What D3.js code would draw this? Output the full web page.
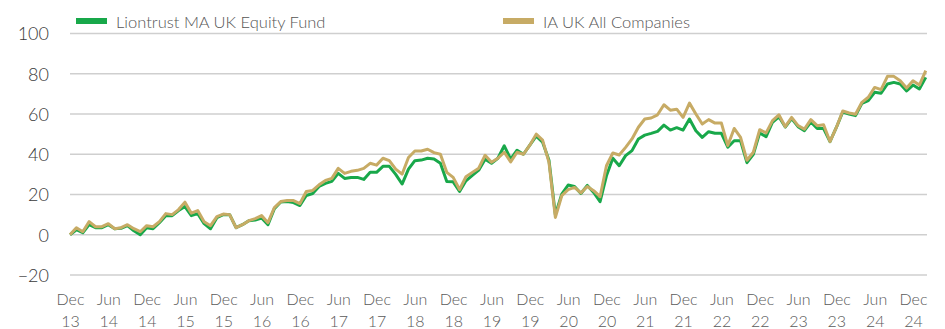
<!DOCTYPE html>
<html>
<head>
<meta charset="utf-8">
<script src="https://cdn.jsdelivr.net/npm/d3@7"></script>
<style>
  html, body { margin: 0; padding: 0; background: #fff; }
  svg { display: block; font-family: Lato, "Open Sans", sans-serif; }
</style>
</head>
<body>
<svg id="chart" width="945" height="329"></svg>
<script>
// Cumulative performance (%), monthly from Dec 2013 to Feb 2025
const fundValues = [
  0, 2.5, 1, 5, 3.5, 3.5, 5, 3, 3.2, 4.5, 2, 0,
  3.5, 3, 6, 9.5, 9.5, 12, 14, 9.5, 10.5, 5.5, 3, 8.5,
  10, 10, 3.5, 5, 7, 7.3, 8.3, 5, 13, 16.3, 16.5, 16,
  14.5, 19.5, 20.5, 24, 25.5, 26.5, 30.5, 28, 28.5, 28.5, 27.5, 31,
  31, 34, 34, 30, 25.2, 32.6, 36.8, 37.1, 38, 37.6, 35.5, 26.5,
  26.3, 21.5, 26.8, 29.5, 32.1, 37.5, 35.5, 38, 44.2, 37.6, 42, 40,
  44.5, 49, 46, 37, 10, 20.2, 24.7, 24, 20.5, 24.5, 21, 16.4,
  29.3, 38, 34.3, 39.3, 41.8, 47.6, 49.5, 50.4, 51.4, 54.5, 52, 53.2,
  52, 57.5, 51.7, 48.4, 51.2, 50.4, 50.4, 43.5, 46.7, 46.7, 35.8, 40,
  50.6, 48.7, 55.9, 58.6, 53.5, 57.7, 53.7, 51.7, 56, 52.8, 52.8, 46.3,
  53.3, 61, 60, 59.2, 65.3, 66.7, 70.8, 70.3, 74.9, 75.7, 74.9, 71.5,
  74.4, 72.4, 78.2
];
const sectorValues = [
  0, 3.5, 1.5, 6.5, 4, 4, 5.5, 3, 3.5, 5, 3, 1.5,
  4.5, 4, 6.5, 10.5, 10, 12.5, 16.2, 10.7, 12, 6.5, 4.5, 9,
  10.3, 10, 3.5, 5, 7, 8, 9.5, 6, 13.5, 16.5, 17, 17,
  15.5, 21.5, 22, 24.8, 27, 28, 33, 30.5, 31.5, 32, 33, 35.5,
  34.6, 38, 36.8, 32.6, 30.1, 38.4, 41.6, 41.6, 42.5, 40.8, 40, 31,
  28.5, 22.5, 28.8, 31, 33.1, 39.5, 36, 38, 41, 36.2, 41, 40,
  44.5, 50, 47, 36, 8.6, 19.4, 22.4, 23.5, 20.8, 24, 21.9, 18.9,
  34.3, 40.6, 39.6, 43.4, 47.6, 53.4, 57.5, 58, 59.6, 64.6, 61.9, 62.4,
  58.3, 65.4, 60, 55, 57.2, 55.5, 55.5, 44.3, 52.8, 48.4, 37, 41,
  52.2, 50.6, 56.7, 59.6, 53.7, 58.3, 54.2, 52.5, 57.2, 54.2, 54.7, 46.3,
  53.3, 61.5, 60.5, 59.9, 65.8, 68.3, 73.2, 72.1, 78.7, 78.7, 76.5, 72.9,
  76.5, 74.4, 81.5
];
const seriesNames = ["Liontrust MA UK Equity Fund", "IA UK All Companies"];
const seriesColors = ["#18a84a", "#c7ab65"];
const xTickLabels = [
  "Dec 13", "Jun 14", "Dec 14", "Jun 15", "Dec 15", "Jun 16", "Dec 16", "Jun 17",
  "Dec 17", "Jun 18", "Dec 18", "Jun 19", "Dec 19", "Jun 20", "Dec 20", "Jun 21",
  "Dec 21", "Jun 22", "Dec 22", "Jun 23", "Dec 23", "Jun 24", "Dec 24"
];
const yTicks = [-20, 0, 20, 40, 60, 80, 100];

const svg = d3.select("#chart");

const x = d3.scaleLinear().domain([0, 132]).range([70, 913]);
const y = d3.scaleLinear().domain([-20, 100]).range([275, 33.5]);
const plotRight = 927;

// horizontal gridlines
svg.append("g")
  .selectAll("line")
  .data(yTicks)
  .join("line")
  .attr("x1", 70).attr("x2", plotRight)
  .attr("y1", d => y(d)).attr("y2", d => y(d))
  .attr("stroke", "#cfcfcf").attr("stroke-width", 1.5);

// y axis labels
const yAxis = d3.axisLeft(y).tickValues(yTicks).tickSize(0).tickPadding(0);
const gy = svg.append("g").attr("transform", "translate(49,0)").call(yAxis);
gy.select(".domain").remove();
gy.selectAll("text")
  .attr("font-size", 18).attr("fill", "#3a3a3a")
  .attr("font-family", "Lato, sans-serif").attr("font-weight", 300)
  .attr("dy", "0.36em");

// x axis labels, two lines each
const xTickIdx = xTickLabels.map((_, i) => i * 6);
const xAxis = d3.axisBottom(x).tickValues(xTickIdx).tickSize(0).tickFormat(() => "");
const gx = svg.append("g").attr("transform", "translate(0,285)").call(xAxis);
gx.select(".domain").remove();
gx.selectAll(".tick text").remove();
gx.selectAll(".tick").each(function(d, i) {
  const parts = xTickLabels[i].split(" ");
  const t = d3.select(this).append("text")
    .attr("text-anchor", "middle")
    .attr("font-size", 16).attr("fill", "#5a5a5a")
    .attr("font-family", "Lato, sans-serif").attr("font-weight", 300);
  t.append("tspan").attr("x", 0).attr("y", 20).text(parts[0]);
  t.append("tspan").attr("x", 0).attr("y", 42).text(parts[1]);
});

// series lines (sector drawn over the fund)
const line = d3.line().x((d, i) => x(i)).y(d => y(d)).curve(d3.curveLinear);
[fundValues, sectorValues].forEach((vals, k) => {
  svg.append("path")
    .datum(vals)
    .attr("fill", "none")
    .attr("stroke", seriesColors[k])
    .attr("stroke-width", 3)
    .attr("stroke-linejoin", "round")
    .attr("d", line);
});

// legend
const legendX = [76, 503];
const lg = svg.append("g");
seriesNames.forEach((name, k) => {
  lg.append("rect")
    .attr("x", legendX[k]).attr("y", 18)
    .attr("width", 31).attr("height", 6)
    .attr("fill", seriesColors[k]);
  lg.append("text")
    .attr("x", legendX[k] + 40).attr("y", 28)
    .attr("font-size", 16.5).attr("fill", "#555")
    .attr("font-family", "Lato, sans-serif").attr("font-weight", 300)
    .text(name);
});
</script>
</body>
</html>
